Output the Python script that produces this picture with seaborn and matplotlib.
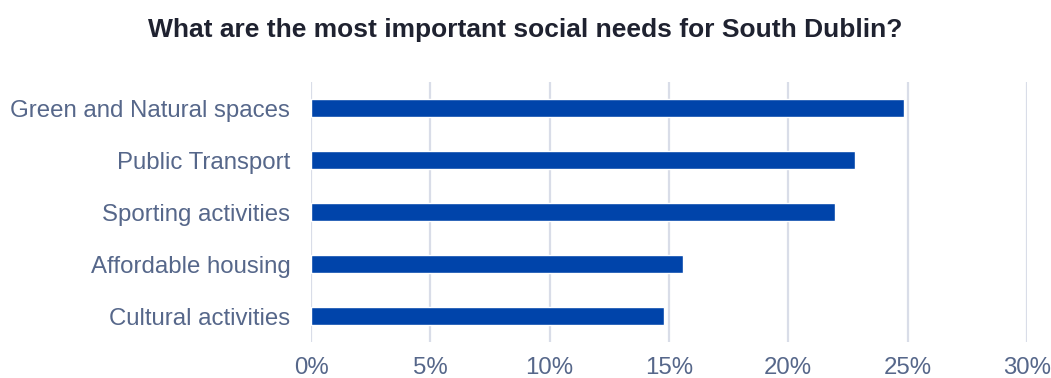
import matplotlib
matplotlib.use("Agg")
import matplotlib.pyplot as plt
import seaborn as sns
import pandas as pd

categories = ["Green and Natural spaces", "Public Transport", "Sporting activities",
              "Affordable housing", "Cultural activities"]
values = [24.87, 22.78, 21.94, 15.6, 14.8]
x_ticks = [0, 5, 10, 15, 20, 25, 30]
x_tick_labels = ["0%", "5%", "10%", "15%", "20%", "25%", "30%"]
title = "What are the most important social needs for South Dublin?"

sns.set_theme(style="white")
plt.rcParams['font.family'] = ['Liberation Sans', 'DejaVu Sans']

df = pd.DataFrame({"category": categories, "value": values})

fig = plt.figure(figsize=(10.51, 3.78), dpi=100)
ax = fig.add_axes([0.296, 0.095, 0.977 - 0.296, 0.783 - 0.095])

sns.barplot(data=df, x="value", y="category", color="#0044aa", saturation=1,
            width=0.35, ax=ax, zorder=3)

ax.set_xlim(0, 30)
ax.set_xticks(x_ticks)
ax.set_xticklabels(x_tick_labels)
ax.set_xlabel("")
ax.set_ylabel("")
ax.grid(axis="x", color="#d9dde8", linewidth=1.6, zorder=0)
ax.set_axisbelow(True)
for s in ax.spines.values():
    s.set_visible(False)
ax.tick_params(axis="x", length=0, pad=11, labelsize=17.3, labelcolor="#56678a")
ax.tick_params(axis="y", length=0, pad=15, labelsize=17.3, labelcolor="#56678a")

fig.text(0.5, 0.92, title, ha="center", va="center", fontsize=19,
         fontweight="bold", color="#1f2230")

fig.savefig("out.png", dpi=100)
